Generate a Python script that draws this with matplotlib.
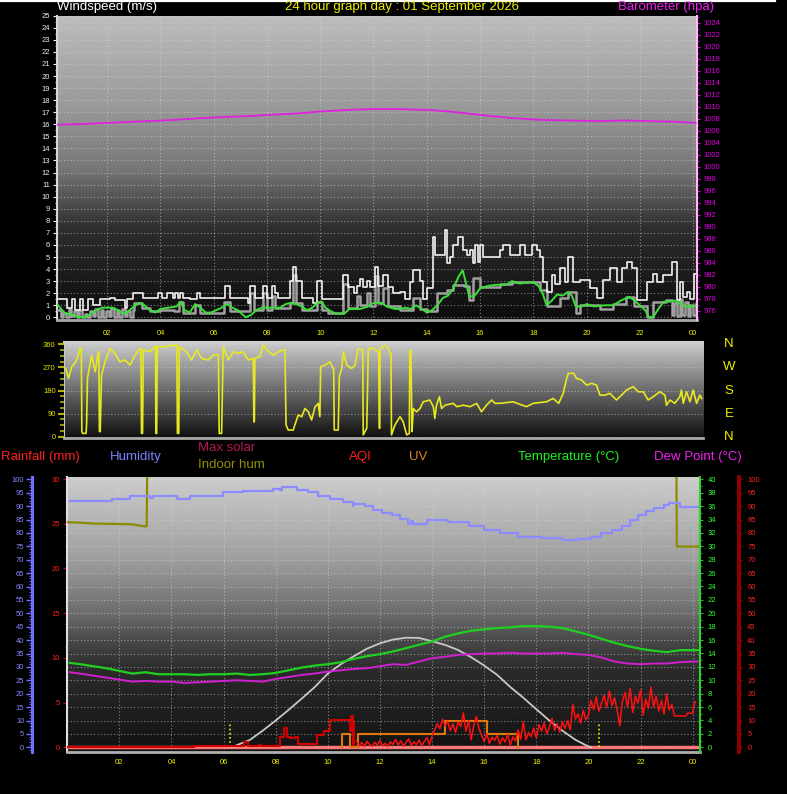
import numpy as np
import matplotlib
matplotlib.use('Agg')
import matplotlib.pyplot as plt
from matplotlib.lines import Line2D
from matplotlib.ticker import MultipleLocator

plt.rcParams['font.family'] = ['Liberation Sans', 'DejaVu Sans']

W, H = 787, 794

# ---------------- data ----------------
hour_ticks = [2, 4, 6, 8, 10, 12, 14, 16, 18, 20, 22, 24]
hour_labels = ['02', '04', '06', '08', '10', '12', '14', '16', '18', '20', '22', '00']

baro_t = [0.1, 1.0, 2.0, 3.0, 3.6, 4.5, 5.5, 6.5, 7.4, 8.3, 9.2, 10.0, 10.4, 11.2, 12.0,
          12.3, 13.0, 14.1, 14.8, 15.5, 16.4, 17.2, 18.3, 19.3, 20.5, 21.4, 22.4, 23.3, 24.1]
baro = [1007.0, 1007.1, 1007.3, 1007.5, 1007.6, 1007.8, 1008.1, 1008.3, 1008.45, 1008.7,
        1008.9, 1009.2, 1009.3, 1009.5, 1009.6, 1009.6, 1009.6, 1009.45, 1009.2, 1008.9,
        1008.45, 1008.1, 1007.8, 1007.7, 1007.6, 1007.7, 1007.6, 1007.5, 1007.3]

gust_t = [0.15, 0.48, 0.66, 0.79, 0.98, 1.10, 1.29, 1.47, 1.73, 2.10, 2.29, 2.67, 2.76, 2.98,
          3.36, 3.92, 4.05, 4.23, 4.48, 4.56, 4.67, 4.75, 4.86, 5.11, 5.36, 5.48, 6.42, 6.61,
          7.30, 7.36, 7.55, 7.86, 7.99, 8.18, 8.30, 8.43, 8.87, 8.99, 9.09, 9.30, 9.74, 9.87,
          10.06, 10.87, 11.06, 11.25, 11.37, 11.50, 11.62, 11.75, 11.87, 12.06, 12.18, 12.37,
          12.56, 12.75, 13.00, 13.19, 13.37, 13.50, 13.75, 13.87, 14.00, 14.25, 14.31, 14.69,
          14.75, 14.88, 15.00, 15.19, 15.38, 15.50, 15.63, 15.75, 15.82, 15.94, 16.00, 16.13,
          16.75, 16.88, 17.13, 17.50, 17.69, 17.94, 18.13, 18.25, 18.38, 18.50, 18.69, 18.82,
          19.00, 19.20, 19.32, 19.51, 19.76, 20.13, 20.38, 20.63, 20.88, 21.13, 21.32, 21.51,
          21.70, 21.88, 22.26, 22.51, 22.64, 22.89, 23.20, 23.39, 23.52, 23.64, 23.77, 23.90,
          24.02, 24.15]
gust = [1.5, 0.8, 1.5, 0.6, 1.5, 0.6, 1.5, 1.0, 1.5, 1.6, 1.4, 0.8, 1.5, 2.0,
        1.6, 2.0, 1.6, 2.0, 1.6, 2.0, 1.6, 2.0, 1.6, 1.5, 2.0, 1.6, 2.6, 1.6,
        1.2, 2.6, 1.6, 2.6, 1.6, 2.6, 2.0, 1.6, 3.0, 4.2, 3.0, 1.6, 1.2, 3.0,
        1.5, 3.5, 2.5, 2.0, 2.6, 3.2, 2.5, 3.0, 2.5, 4.2, 2.6, 3.5,
        2.5, 2.0, 2.1, 1.5, 2.9, 3.9, 3.0, 1.5, 2.4, 6.7, 5.2, 7.2,
        4.5, 5.0, 6.0, 6.7, 5.6, 5.2, 5.6, 4.5, 6.0, 4.6, 6.0, 5.0,
        5.6, 6.0, 5.2, 6.0, 5.2, 6.0, 5.6, 5.0, 2.95, 2.1, 3.5, 2.8,
        4.1, 2.95, 5.0, 2.95, 3.1, 2.4, 1.6, 3.1, 4.1, 2.95, 4.1, 4.6,
        4.1, 1.45, 2.95, 3.6, 2.95, 3.5, 4.6, 1.45, 2.95, 1.7, 2.1, 1.5,
        3.6, 3.6]

speed_t = [0.15, 0.25, 0.35, 0.45, 0.55, 0.65, 0.75, 0.85, 0.95, 1.05, 1.15, 1.25, 1.35, 1.45,
           1.55, 1.65, 1.75, 1.85, 1.95, 2.05, 2.15, 2.25, 2.35, 2.45, 2.55, 2.65, 2.75, 2.85,
           2.95, 3.0, 3.3, 3.6, 4.0, 4.5, 4.7, 4.85, 5.3, 5.5, 6.4, 6.6, 7.36, 7.5, 7.86, 7.99,
           8.18, 8.3, 8.87, 8.99, 9.09, 9.3, 9.87, 10.06, 10.3, 10.87, 11.06, 11.37, 11.5, 11.75,
           11.87, 12.06, 12.18, 12.37, 12.56, 13.0, 13.5, 13.75, 14.0, 14.4, 14.75, 15.0, 15.4,
           15.6, 15.75, 16.0, 16.75, 17.2, 18.25, 18.5, 19.0, 19.3, 19.6, 19.76, 20.5, 21.0,
           21.5, 21.8, 22.26, 22.5, 23.0, 23.2, 23.3, 23.4, 23.5, 23.6, 23.7, 23.8, 23.9, 24.0,
           24.1, 24.15]
speed = [0.6, 0.0, 0.4, 0.0, 0.7, 0.1, 0.5, 0.0, 0.6, 0.0, 0.3, 0.0, 0.5, 0.1,
         0.7, 0.0, 0.6, 0.0, 0.5, 0.1, 0.8, 0.0, 0.6, 0.0, 0.7, 0.1, 0.5, 0.0,
         0.6, 1.2, 0.8, 0.5, 0.6, 0.5, 1.3, 0.4, 1.0, 0.4, 1.3, 0.5, 2.0, 0.6, 2.0, 0.6,
         1.8, 0.8, 1.2, 3.5, 1.2, 0.6, 1.3, 0.6, 0.4, 2.8, 0.8, 1.8, 1.0, 2.0,
         0.9, 3.4, 1.2, 2.4, 0.9, 0.6, 1.6, 0.7, 0.5, 2.0, 2.3, 2.7, 2.6,
         1.4, 3.3, 2.5, 2.8, 2.9, 2.3, 0.9, 1.6, 2.1, 0.4, 1.0, 0.7, 1.1,
         1.7, 0.9, 0.0, 1.3, 1.4, 0.2, 1.2, 0.1, 1.5, 0.2, 1.3, 0.1, 1.0, 0.2,
         1.2, 1.2]

avg_t = [0.15, 0.3, 0.45, 0.6, 0.8, 1.0, 1.2, 1.4, 1.6, 1.8, 2.0, 2.2, 2.4, 2.6, 2.8, 3.0,
         3.2, 3.4, 3.6, 3.8, 4.0, 4.3, 4.6, 4.75, 4.9, 5.1, 5.3, 5.5, 5.7, 5.9, 6.1, 6.3, 6.5,
         6.7, 6.9, 7.05, 7.2, 7.4, 7.6, 7.8, 8.2, 8.5, 8.7, 8.9, 9.1, 9.3, 9.5, 9.7, 9.9, 10.05,
         10.2, 10.4, 10.6, 10.9, 11.1, 11.5, 11.8, 12.0, 12.3, 12.5, 12.8, 13.0, 13.2, 13.4,
         13.6, 13.8, 14.0, 14.2, 14.4, 14.6, 14.8, 15.0, 15.2, 15.35, 15.5, 15.6, 15.8, 16.0,
         16.3, 16.6, 17.0, 17.2, 17.5, 17.8, 18.0, 18.2, 18.35, 18.5, 18.7, 18.9, 19.1, 19.3,
         19.45, 19.6, 19.8, 20.0, 20.3, 20.7, 21.0, 21.3, 21.6, 21.8, 22.0, 22.2, 22.35, 22.5,
         22.7, 22.9, 23.1, 23.3, 23.5, 23.7, 23.9, 24.1]
avg = [1.0, 0.6, 0.3, 0.3, 0.1, 0.0, 0.05, 0.3, 0.6, 0.8, 0.8, 0.8, 0.6, 0.3, 0.5, 0.9,
       1.2, 1.0, 0.6, 0.4, 0.7, 0.8, 0.9, 1.3, 0.6, 0.4, 1.1, 0.8, 0.4, 0.4, 0.6, 0.8, 1.1,
       0.8, 0.6, 0.3, 0.0, 0.2, 0.6, 0.8, 0.8, 0.8, 1.1, 1.2, 1.1, 0.9, 0.6, 0.8, 1.2, 1.3,
       0.8, 0.5, 0.3, 0.3, 0.7, 0.7, 0.9, 1.2, 1.2, 0.9, 0.7, 0.7, 0.8, 0.7,
       1.0, 0.7, 0.4, 0.6, 1.0, 1.6, 1.8, 2.4, 3.4, 3.9, 2.6, 1.7, 1.8, 2.4,
       2.6, 2.7, 2.7, 3.0, 2.8, 2.9, 2.9, 2.6, 2.0, 1.0, 1.4, 1.9, 1.8, 2.1,
       1.8, 0.9, 0.9, 1.1, 0.9, 1.0, 1.0, 1.4, 1.7, 1.4, 1.0, 0.6, 0.0, 0.0,
       0.7, 1.3, 1.3, 1.4, 1.2, 0.9, 0.9, 1.0]

dir_t = [0.07, 0.17, 0.29, 0.41, 0.5, 0.6, 0.65, 0.67, 0.7, 0.83, 0.85, 0.88, 1.04, 1.17, 1.29,
         1.31, 1.33, 1.36, 1.41, 1.54, 1.73, 1.91, 2.1, 2.29, 2.48, 2.67, 2.85, 2.89, 2.91, 2.95,
         2.98, 3.23, 3.42, 3.44, 3.45, 3.48, 3.5, 3.86, 4.17, 4.24, 4.26, 4.31, 4.33, 4.6, 4.79,
         4.98, 5.17, 5.42, 5.61, 5.8, 5.83, 5.92, 5.98, 6.17, 6.36, 6.55, 6.73, 6.92, 7.11, 7.13,
         7.15, 7.17, 7.36, 7.49, 7.61, 7.86, 8.05, 8.24, 8.3, 8.34, 8.42, 8.61, 8.67, 8.8, 8.93,
         9.05, 9.18, 9.3, 9.43, 9.55, 9.61, 9.64, 9.8, 9.99, 10.11, 10.13, 10.15, 10.3, 10.34,
         10.43, 10.49, 10.62, 10.8, 10.93, 11.05, 11.18, 11.22, 11.24, 11.37, 11.43, 11.62, 11.8,
         11.82, 11.84, 11.86, 11.87, 12.05, 12.18, 12.24, 12.28, 12.3, 12.43, 12.62, 12.74,
         12.87, 12.97, 12.99, 13.03, 13.07, 13.12, 13.24, 13.37, 13.49, 13.74, 13.87, 13.93,
         13.99, 14.1, 14.18, 14.31, 14.62, 14.75, 15.0, 15.25, 15.5, 15.68, 15.87, 16.06, 16.19,
         16.37, 16.87, 17.37, 17.62, 18.12, 18.37, 18.58, 18.75, 18.88, 18.94, 19.14, 19.25,
         19.44, 19.63, 19.82, 20.0, 20.13, 20.32, 20.5, 20.75, 20.88, 21.13, 21.38, 21.57,
         21.76, 21.94, 22.13, 22.38, 22.57, 22.63, 22.76, 22.94, 23.13, 23.19, 23.26, 23.38,
         23.51, 23.63, 23.76, 23.88, 23.95]
wind_dir = [266, 227, 273, 286, 305, 344, 344, 20, 13, 13, 52, 227, 318, 253, 331,
            331, 20, 20, 240, 292, 344, 325, 292, 299, 279, 318, 344, 344, 13, 13,
            338, 331, 351, 351, 13, 13, 351, 351, 357, 357, 13, 13, 351, 331, 299,
            338, 305, 299, 318, 318, 13, 13, 351, 299, 331, 325, 331, 299, 305, 58,
            58, 305, 312, 357, 338, 318, 331, 338, 338, 46, 26, 26, 46, 85, 78,
            110, 97, 65, 117, 130, 78, 273, 279, 292, 266, 266, 26, 26, 234,
            266, 331, 279, 266, 279, 344, 338, 338, 7, 33, 344, 344, 331,
            331, 33, 33, 344, 357, 344, 325, 325, 7, 46, 78, 58,
            7, 13, 338, 338, 20, 110, 97, 110, 136, 143, 117, 71,
            123, 156, 110, 123, 130, 117, 123, 117, 130, 97, 123, 143, 130,
            130, 136, 117, 130, 136, 149, 130, 169, 227, 247, 247, 227,
            221, 201, 208, 201, 162, 162, 169, 143, 156, 182, 195, 175,
            175, 143, 156, 175, 162, 123, 143, 130, 156, 182, 130, 175,
            136, 182, 130, 162, 149]
compass = ['N', 'W', 'S', 'E', 'N']
compass_deg = [360, 270, 180, 90, 0]

hum_t = [0.1, 1.7, 2.41, 3.17, 3.3, 4.2, 4.71, 5.99, 6.75, 7.9, 8.16, 8.23, 8.8, 9.25, 9.63,
         10.08, 10.59, 10.95, 10.97, 11.42, 11.74, 12.06, 12.45, 12.77, 13.09, 13.21, 13.28,
         13.8, 14.6, 15.4, 16.0, 16.6, 17.3, 18.2, 19.0, 19.6, 20.1, 20.5, 20.9, 21.3, 21.6,
         21.9, 22.2, 22.5, 22.9, 23.1, 23.5, 24.25]
humidity = [92.0, 92.8, 93.9, 92.9, 93.9, 92.7, 93.8, 95.1, 95.8, 96.4, 95.9, 97.1, 95.9, 95.1,
            93.9, 92.7, 91.6, 90.0, 90.8, 90.0, 88.6, 87.6, 86.6, 85.3, 83.4, 84.3, 83.4,
            84.8, 84.1, 82.5, 81.1, 80.0, 78.5, 78.0, 77.4, 77.8, 78.5, 79.8, 81.1, 82.6, 84.8,
            86.5, 88.2, 89.3, 90.4, 91.0, 89.8, 89.8]

indoor_t = [0.0, 0.5, 1.0, 1.5, 2.0, 2.5, 2.9, 3.05, 3.08, 23.37, 23.39, 24.25]
indoor_hum = [84.0, 83.8, 83.5, 83.4, 83.3, 83.2, 82.5, 82.5, 115.0, 115.0, 74.9, 74.9]

solar_t = [6.3, 7.0, 7.5, 8.0, 8.5, 9.0, 9.5, 10.0, 10.5, 11.0, 11.5, 12.0, 12.5, 13.0, 13.5,
           14.0, 14.5, 15.0, 15.5, 16.0, 16.5, 17.0, 17.5, 18.0, 18.5, 19.0, 19.5, 20.0, 20.1]
max_solar = [0.0, 2.7, 6.2, 10.0, 14.0, 18.2, 22.5, 27.5, 31.0, 34.0, 36.8, 38.8, 40.2, 40.9,
             40.8, 39.6, 38.2, 36.3, 33.6, 30.5, 27.0, 22.5, 18.5, 14.2, 10.0, 6.2, 2.8, 0.3, 0.0]
sun_times = [6.25, 20.4]

temp_t = [0.1, 0.5, 1.0, 1.5, 2.0, 2.5, 3.0, 3.5, 4.0, 4.5, 5.0, 5.5, 6.0, 6.5, 7.0, 7.5, 8.0,
          8.5, 9.0, 9.5, 10.0, 10.5, 11.0, 11.5, 12.0, 12.5, 13.0, 13.5, 14.0, 14.5, 15.0, 15.5,
          16.0, 16.5, 17.0, 17.5, 18.0, 18.5, 19.0, 19.5, 20.0, 20.5, 21.0, 21.5, 22.0, 22.5,
          23.0, 23.5, 24.0, 24.2]
temperature = [12.6, 12.4, 12.1, 11.8, 11.4, 11.0, 11.2, 10.9, 10.9, 10.9, 10.8, 10.9, 10.9,
               11.0, 10.8, 10.9, 11.1, 11.5, 11.9, 12.2, 12.4, 12.7, 13.2, 13.6, 13.9, 14.3,
               14.8, 15.3, 15.8, 16.5, 17.0, 17.4, 17.6, 17.8, 17.9, 18.1, 18.1, 18.0, 17.8,
               17.3, 16.8, 16.2, 15.6, 15.1, 14.7, 14.4, 14.2, 14.5, 14.5, 14.5]
dew_point = [11.2, 11.0, 10.7, 10.4, 10.1, 9.8, 9.9, 9.8, 9.8, 9.6, 9.7, 9.8, 9.9, 10.0, 9.9,
             9.8, 10.2, 10.5, 10.8, 11.0, 11.3, 11.5, 11.7, 11.8, 12.1, 12.4, 12.3, 12.8,
             13.3, 13.5, 13.8, 13.9, 14.0, 14.0, 14.1, 14.0, 14.0, 14.0, 14.1, 13.9, 13.8,
             13.4, 12.8, 12.5, 12.4, 12.5, 12.5, 12.7, 12.8, 12.8]

rain_t = [0.0, 24.25]
rainfall = [0.0, 0.0]

uv_t = [10.55, 10.55, 10.85, 11.15, 14.5, 16.1, 17.3]
uv = [0, 1, 0, 1, 2, 1, 0]

aqi_early_t = [0.0, 4.85, 6.8, 6.95, 7.35, 7.45, 8.15, 8.3, 8.45, 8.55, 8.75, 8.85, 9.6, 9.85,
               10.1, 10.85, 10.9, 10.95, 11.0]
aqi_early = [0.0, 0.4, 1.8, 0.4, 0.9, 0.4, 3.7, 7.1, 4.0, 3.5, 4.0, 1.2, 4.7, 6.2,
             10.2, 6.0, 11.5, 1.0, 9.0]
aqi_t = [11.1, 11.2, 11.3, 11.4, 11.5, 11.6, 11.7, 11.8, 11.9, 12.0, 12.1, 12.2, 12.3, 12.4,
         12.5, 12.6, 12.7, 12.8, 12.9, 13.0, 13.1, 13.2, 13.3, 13.4, 13.5, 13.6, 13.7, 13.8,
         13.9, 14.0, 14.1, 14.2, 14.3, 14.4, 14.5, 14.6, 14.7, 14.8, 14.9, 15.0, 15.1, 15.2,
         15.3, 15.4, 15.5, 15.6, 15.7, 15.8, 15.9, 16.0, 16.1, 16.2, 16.3, 16.4, 16.5, 16.6,
         16.7, 16.8, 16.9, 17.0, 17.1, 17.2, 17.3, 17.4, 17.5, 17.6, 17.7, 17.8, 17.9, 18.0,
         18.1, 18.2, 18.3, 18.4, 18.5, 18.6, 18.7, 18.8, 18.9, 19.0, 19.1, 19.2, 19.3, 19.4,
         19.5, 19.6, 19.7, 19.8, 19.9, 20.0, 20.1, 20.2, 20.3, 20.4, 20.5, 20.6, 20.7, 20.8,
         20.9, 21.0, 21.1, 21.2, 21.3, 21.4, 21.5, 21.6, 21.7, 21.8, 21.9, 22.0, 22.1, 22.2,
         22.3, 22.4, 22.5, 22.6, 22.7, 22.8, 22.9, 23.0, 23.1, 23.2, 23.3, 23.75, 23.8, 24.0,
         24.05, 24.1]
aqi = [2.5, 0.5, 1.8, 0.3, 2.2, 1.0, 0.4, 1.9, 0.8, 2.6, 0.6, 1.5, 0.3, 2.0,
       1.1, 3.0, 0.9, 2.4, 0.5, 1.8, 3.2, 0.8, 2.0, 1.0, 2.7, 0.6, 2.2, 3.6,
       1.0, 4.2, 6.5, 8.8, 7.0, 10.5, 8.0, 9.6, 6.2, 8.7, 5.5, 9.4, 7.8, 12.8,
       6.0, 9.9, 2.8, 8.2, 11.5, 7.0, 4.5, 2.2, 5.0, 1.5, 3.8, 2.6, 4.4, 1.2,
       3.5, 2.0, 4.8, 0.8, 3.9, 2.4, 6.5, 3.0, 9.5, 2.8, 5.5, 4.0, 7.2, 3.5,
       8.5, 6.0, 9.2, 5.0, 7.5, 10.8, 6.3, 8.8, 5.6, 9.5, 7.0, 10.0, 6.5, 16.0,
       10.5, 12.5, 9.0, 13.8, 10.2, 12.0, 17.5, 14.0, 18.8, 13.5, 16.5, 19.5, 14.8, 21.0,
       15.5, 18.5, 14.0, 8.0, 17.0, 20.5, 15.0, 22.0, 13.0, 19.0, 16.5, 21.5, 12.0, 18.0,
       14.5, 22.5, 15.0, 19.0, 13.5, 17.5, 12.5, 20.0, 14.0, 16.0, 11.7, 11.7, 12.7, 12.7,
       15.8, 17.0]

# ---------------- helpers ----------------
def fbox(x0, y0, x1, y1):
    return [x0 / W, 1 - y1 / H, (x1 - x0) / W, (y1 - y0) / H]


def fpt(x, y):
    return x / W, 1 - y / H


def gradient(ax, pos, val):
    col = np.interp(np.linspace(0, 1, 300), pos, val)[:, None]
    ax.imshow(col, extent=(0, 1, 0, 1), transform=ax.transAxes, cmap='gray', vmin=0, vmax=1,
              aspect='auto', zorder=0, interpolation='bilinear')


GRID = dict(color='#d8d8d8', alpha=0.55, linestyle=(0, (1, 2)), linewidth=0.8)
TF = 5.5

fig = plt.figure(figsize=(W / 100, H / 100), dpi=100, facecolor='black')
fig.add_artist(Line2D([0, 775 / W], [1 - 0.8 / H, 1 - 0.8 / H], color='white', lw=1.6))

# ---------------- panel 1 : wind + barometer ----------------
ax1 = fig.add_axes(fbox(57, 15.7, 697, 320))
gradient(ax1, [0, 0.3, 0.5, 0.6, 0.7, 0.85, 1.0], [0.74, 0.6, 0.47, 0.33, 0.18, 0.11, 0.05])
ax1.plot(speed_t, speed, drawstyle='steps-post', color='#a0a0a0', lw=1.8, zorder=3)
ax1.plot(gust_t, gust, drawstyle='steps-post', color='#f2f2f2', lw=1.2, zorder=4)
ax1.plot(avg_t, avg, color='#38e038', lw=1.4, zorder=5)
ax1.set_xlim(0.113, 24.15)
ax1.set_ylim(-0.22, 25.0)
ax1.set_yticks(range(0, 26))
ax1.yaxis.set_minor_locator(MultipleLocator(0.5))
ax1.set_xticks(hour_ticks, hour_labels)
ax1.tick_params(axis='y', which='major', colors='#e8eeff', labelsize=TF, length=3, width=0.8, pad=2)
ax1.tick_params(axis='y', which='minor', colors='#e8eeff', length=1.5, width=0.6)
ax1.tick_params(axis='x', colors='#f0f000', labelsize=TF, length=0, pad=7)
ax1.grid(True, which='major', **GRID)
for s in ['top', 'right']:
    ax1.spines[s].set_visible(False)
ax1.spines['left'].set_color('#d8d8d8')
ax1.spines['left'].set_linewidth(1.5)
ax1.spines['bottom'].set_color('#a8a8a8')
ax1.spines['bottom'].set_linewidth(2)

ax1b = ax1.twinx()
ax1b.plot(baro_t, baro, color='#e020e0', lw=1.3, zorder=6)
ax1b.set_ylim(974.45, 1025.17)
ax1b.set_yticks(range(976, 1025, 2))
ax1b.yaxis.set_minor_locator(MultipleLocator(1))
ax1b.tick_params(axis='y', which='major', colors='#e000e0', labelsize=TF, length=2.5, width=0.8, pad=2)
ax1b.tick_params(axis='y', which='minor', colors='#e000e0', length=1.5, width=0.6)
for s in ['top', 'left', 'bottom']:
    ax1b.spines[s].set_visible(False)
ax1b.spines['right'].set_color('#ffb8ff')
ax1b.spines['right'].set_linewidth(1.5)

fig.text(*fpt(57, 7), 'Windspeed (m/s)', color='white', fontsize=9.5, va='center', ha='left')
fig.text(*fpt(402, 7), '24 hour graph day : 01 September 2026', color='#f0f000', fontsize=9.5,
         va='center', ha='center')
fig.text(*fpt(618, 7), 'Barometer (hpa)', color='#f020f0', fontsize=9.5, va='center', ha='left')

# ---------------- panel 2 : wind direction ----------------
ax2 = fig.add_axes(fbox(64, 342.3, 703, 438))
gradient(ax2, [0, 0.5, 1.0], [0.8, 0.42, 0.06])
ax2.plot(dir_t, wind_dir, color='#e8e820', lw=1.2, zorder=3)
ax2.set_xlim(0, 24)
ax2.set_ylim(-5, 367.8)
ax2.set_yticks([0, 90, 180, 270, 360])
ax2.yaxis.set_minor_locator(MultipleLocator(22.5))
ax2.set_xticks([])
ax2.tick_params(axis='y', which='major', colors='#b0b000', labelcolor='#e8e800', labelsize=TF,
                length=4, width=1.5, pad=2)
ax2.tick_params(axis='y', which='minor', colors='#b0b000', length=3, width=1.2)
ax2.grid(True, axis='y', **GRID)
ax2.spines['right'].set_visible(False)
ax2.spines['left'].set_color('#c8c8c8')
ax2.spines['top'].set_color('#d0d0d0')
ax2.spines['top'].set_linewidth(1.5)
ax2.spines['bottom'].set_color('#a8a8a8')
ax2.spines['bottom'].set_linewidth(2)
for lab, d in zip(compass, compass_deg):
    yy = ax2.transData.transform((0, d))[1]
    fig.text(729 / W, yy / fig.dpi / fig.get_figheight(), lab, color='#f0f000', fontsize=9.5,
             ha='center', va='center')

# ---------------- panel 3 : multi-series ----------------
ax3 = fig.add_axes(fbox(66.7, 477.3, 700, 751.7))
gradient(ax3, [0, 0.3, 0.5, 0.6, 0.7, 0.85, 1.0], [0.8, 0.62, 0.42, 0.28, 0.17, 0.12, 0.07])
ax3.set_xlim(-0.02, 24.28)
ax3.set_ylim(-0.49, 30.2)
ax3.set_yticks(range(0, 31, 5))
ax3.yaxis.set_minor_locator(MultipleLocator(1.25))
ax3.set_xticks(hour_ticks, hour_labels)
ax3.tick_params(axis='y', which='major', colors='#e00000', labelcolor='#ff2020', labelsize=TF,
                length=3, width=0.8, pad=2)
ax3.tick_params(axis='y', which='minor', colors='#c00000', length=1.5, width=0.6)
ax3.tick_params(axis='x', colors='#f0f000', labelsize=TF, length=0, pad=5)
ax3.grid(True, axis='x', **GRID)
ax3.plot(rain_t, rainfall, color='#ff7070', lw=2.5, zorder=3)
ax3.spines['top'].set_visible(False)
ax3.spines['right'].set_visible(False)
ax3.spines['left'].set_color('#e0e0e0')
ax3.spines['left'].set_linewidth(1.5)
ax3.spines['bottom'].set_color('#b0b0b0')
ax3.spines['bottom'].set_linewidth(2)

# humidity axis (left, outer)
ax3h = ax3.twinx()
ax3h.set_ylim(-1.64, 100.75)
ax3h.yaxis.tick_left()
ax3h.spines['left'].set_position(('axes', (32 - 66.7) / 633.3))
ax3h.spines['left'].set_visible(True)
ax3h.spines['left'].set_color('#7070ff')
ax3h.spines['left'].set_linewidth(2.2)
for s in ['top', 'right', 'bottom']:
    ax3h.spines[s].set_visible(False)
ax3h.set_yticks(range(0, 101, 5))
ax3h.yaxis.set_minor_locator(MultipleLocator(1))
ax3h.tick_params(axis='y', which='major', colors='#7070ff', labelcolor='#8888ff', labelsize=TF,
                 length=4, width=1.0, pad=1.5)
ax3h.tick_params(axis='y', which='minor', colors='#7070ff', length=2, width=0.6)
ax3h.grid(True, axis='y', **GRID)
ax3h.plot(indoor_t, indoor_hum, color='#8c8c00', lw=1.6, zorder=3)
ax3h.plot(hum_t, humidity, drawstyle='steps-post', color='#8c8cff', lw=1.6, zorder=3)
ax3h.plot(solar_t, max_solar, color='#c8c8c8', lw=1.3, zorder=3)
ax3h.vlines(sun_times, 0, 9.5, colors='#f0f000', linestyles=(0, (1, 1.5)), lw=1.2, zorder=3)

# temperature axis (right)
ax3t = ax3.twinx()
ax3t.set_ylim(-0.66, 40.3)
ax3t.set_yticks(range(0, 41, 2))
ax3t.yaxis.set_minor_locator(MultipleLocator(1))
for s in ['top', 'left', 'bottom']:
    ax3t.spines[s].set_visible(False)
ax3t.spines['right'].set_color('#30d030')
ax3t.spines['right'].set_linewidth(1.5)
ax3t.tick_params(axis='y', which='major', colors='#20c020', labelcolor='#30ff30', labelsize=TF,
                 length=2.5, width=0.8, pad=3)
ax3t.tick_params(axis='y', which='minor', colors='#20c020', length=1.5, width=0.6)
ax3t.plot(temp_t, temperature, color='#20d020', lw=1.6, zorder=4)
ax3t.plot(temp_t, dew_point, color='#d020d0', lw=1.4, zorder=4)

# UV (hidden axis)
ax3u = ax3.twinx()
ax3u.set_ylim(-0.33, 20.35)
ax3u.set_axis_off()
ax3u.plot(uv_t, uv, drawstyle='steps-post', color='#e07810', lw=1.5, zorder=4)

# AQI axis (far right)
ax3a = ax3.twinx()
ax3a.set_ylim(-1.64, 100.75)
ax3a.set_yticks(range(0, 101, 5))
ax3a.yaxis.set_minor_locator(MultipleLocator(1))
for s in ['top', 'left', 'bottom']:
    ax3a.spines[s].set_visible(False)
ax3a.spines['right'].set_position(('axes', (739 - 66.7) / 633.3))
ax3a.spines['right'].set_color('#900000')
ax3a.spines['right'].set_linewidth(2.8)
ax3a.spines['right'].set_linestyle((0, (1.2, 0.8)))
ax3a.tick_params(axis='y', which='major', colors='#a00000', labelcolor='#ff2020', labelsize=TF,
                 length=2, width=1.0, pad=4)
ax3a.tick_params(axis='y', which='minor', colors='#900000', length=1, width=0.6)
ax3a.plot(aqi_early_t, aqi_early, drawstyle='steps-post', color='#d00000', lw=1.5, zorder=5)
ax3a.plot(aqi_t, aqi, color='#ff1010', lw=1.1, zorder=5)

# legend texts
fig.text(*fpt(1, 457), 'Rainfall (mm)', color='#ff2020', fontsize=9.5, va='center', ha='left')
fig.text(*fpt(110, 457), 'Humidity', color='#8080ff', fontsize=9.5, va='center', ha='left')
fig.text(*fpt(198, 448), 'Max solar', color='#b8185a', fontsize=9.5, va='center', ha='left')
fig.text(*fpt(198, 465), 'Indoor hum', color='#909000', fontsize=9.5, va='center', ha='left')
fig.text(*fpt(349, 457), 'AQI', color='#ff2020', fontsize=9.5, va='center', ha='left')
fig.text(*fpt(409, 457), 'UV', color='#e08020', fontsize=9.5, va='center', ha='left')
fig.text(*fpt(518, 457), 'Temperature (°C)', color='#20f020', fontsize=9.5, va='center', ha='left')
fig.text(*fpt(654, 457), 'Dew Point (°C)', color='#f020f0', fontsize=9.5, va='center', ha='left')

fig.savefig('out.png', dpi=100, facecolor='black')
